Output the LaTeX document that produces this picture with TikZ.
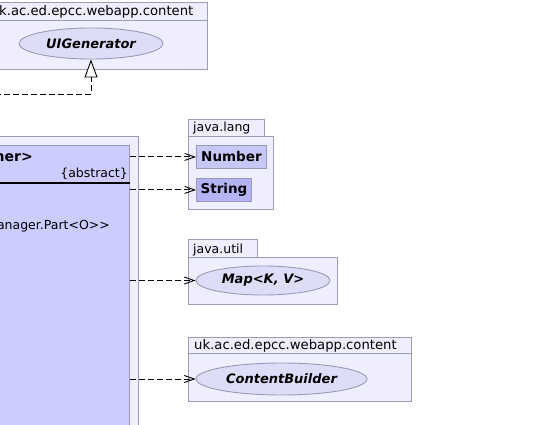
\documentclass[tikz,border=0pt]{standalone}
\usepackage{fontspec}
\setmainfont{DejaVu Sans}
\usetikzlibrary{arrows.meta,shapes.geometric}

\definecolor{pkgfill}{HTML}{EEEEFF}
\definecolor{pkgline}{HTML}{9C9CB4}
\definecolor{clsfill}{HTML}{CCCCFF}
\definecolor{clsline}{HTML}{9999BB}
\definecolor{ifcfill}{HTML}{DDDDF8}
\definecolor{numfill}{HTML}{C8C8F8}
\definecolor{strfill}{HTML}{B4B4F4}

\tikzset{
  pkg/.style={draw=pkgline, fill=pkgfill, line width=0.9pt},
  cls/.style={draw=clsline, fill=clsfill, line width=0.9pt, inner sep=0},
  iface/.style={ellipse, draw=clsline, fill=ifcfill, line width=0.9pt, inner sep=0,
    font=\fontsize{13}{15}\selectfont\bfseries\itshape},
  typebox/.style={draw=clsline, line width=0.9pt, inner sep=0, anchor=north west,
    font=\fontsize{13.5}{15}\selectfont\bfseries},
  pkgname/.style={anchor=base west, inner sep=0},
  dep/.style={dash pattern=on 6pt off 3pt, line width=0.9pt,
    -{Straight Barb[length=10pt, width=7pt]}},
  real/.style={dash pattern=on 6pt off 3pt, line width=0.9pt,
    -{Triangle[fill=white, length=18pt, width=13pt]}}
}

\begin{document}
\begin{tikzpicture}[x=1pt, y=-1pt, font=\fontsize{12.5}{15}\selectfont]
  \useasboundingbox (0,0) rectangle (536,425);

  % top package
  \draw[pkg] (-10,2) rectangle (207,69);
  \draw[pkgline, line width=0.9pt] (-10,20) -- (207,20);
  \node[pkgname, font=\fontsize{13.2}{15}\selectfont] (webtop) at (-1,16) {k.ac.ed.epcc.webapp.content};
  \node[iface, minimum width=144, minimum height=31] (uigen) at (91,43.5) {UIGenerator};

  % package of the class
  \draw[pkg] (-10,136) rectangle (138,440);
  \node[cls, anchor=north east, minimum width=150, minimum height=300] (part) at (130,145) {};
  \draw[line width=2pt] (-10,183) -- (part.east |- 0,183);
  \node[anchor=base east, inner sep=0, font=\fontsize{14}{16}\selectfont\bfseries] (title) at (33,162) {ner>};
  \node[anchor=base east, inner sep=0] (abstr) at (128,177.5) {\{abstract\}};
  \node[anchor=base east, inner sep=0] (field) at (110,229.5) {anager.Part<O>\kern0pt>};

  % java.lang
  \draw[pkg] (188,119) rectangle (264,136);
  \draw[pkg] (188,136) rectangle (273,209);
  \node[pkgname] (lang) at (193,132) {java.lang};
  \node[typebox, fill=numfill, minimum width=70, minimum height=23] (num) at (196,145) {Number};
  \node[typebox, fill=strfill, minimum width=55, minimum height=23] (str) at (196,178) {String};

  % java.util
  \draw[pkg] (188,239) rectangle (257,257);
  \draw[pkg] (188,257) rectangle (337,304);
  \node[pkgname] (util) at (193,253) {java.util};
  \node[iface, minimum width=134, minimum height=29] (map) at (263,280.5) {Map<K, V>};

  % content package
  \draw[pkg] (188,337) rectangle (411,401);
  \draw[pkgline, line width=0.9pt] (188,353) -- (411,353);
  \node[pkgname, font=\fontsize{13.2}{15}\selectfont] (webbot) at (194,349) {uk.ac.ed.epcc.webapp.content};
  \node[iface, minimum width=171, minimum height=32] (cbuild) at (281.5,379) {ContentBuilder};

  % connectors
  \coordinate (impl) at (-5,94);
  \draw[real] (impl) -| (uigen.south);
  \draw[dep] (part.east |- num.west) -- (num.west);
  \draw[dep] (part.east |- str.west) -- (str.west);
  \draw[dep] (part.east |- map.west) -- (map.west);
  \draw[dep] (part.east |- cbuild.west) -- (cbuild.west);
\end{tikzpicture}
\end{document}
